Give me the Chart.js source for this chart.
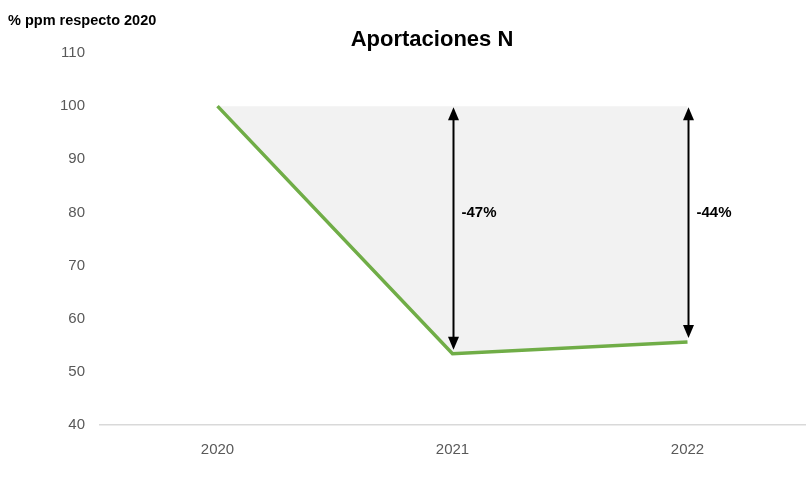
<!DOCTYPE html>
<html>
<head>
<meta charset="utf-8">
<script src="https://cdn.jsdelivr.net/npm/chart.js@4.4.0/dist/chart.umd.min.js"></script>
<style>
  html, body { margin: 0; padding: 0; background: #fff; }
  #wrap { width: 812px; height: 487px; }
</style>
</head>
<body>
<div id="wrap"><canvas id="chart"></canvas></div>
<script>
// ================================
//            DATOS
// ================================
const years = ["2020", "2021", "2022"];
const aportacionesN = [100, 53.4, 55.6];
const arrowYears = ["2021", "2022"];
const arrowLabels = ["-47%", "-44%"];
const yTicks = [40, 50, 60, 70, 80, 90, 100, 110];

const FONT = "'Liberation Sans', Arial, sans-serif";

// ================================
//   FLECHAS + TEXTOS
// ================================
const annotations = {
  id: "annotations",
  afterDatasetsDraw(chart) {
    const { ctx, scales } = chart;
    const x = scales.x, y = scales.y;
    ctx.save();
    arrowYears.forEach((yr, i) => {
      const idx = years.indexOf(yr);
      const px = Math.round(x.getPixelForValue(idx)) + 0.5;
      const top = y.getPixelForValue(100) + 1;
      const bottom = y.getPixelForValue(aportacionesN[idx]) - 4;
      const head = 13, half = 5.5;
      ctx.strokeStyle = "#000";
      ctx.fillStyle = "#000";
      ctx.lineWidth = 2;
      ctx.beginPath();
      ctx.moveTo(px, top + head - 1);
      ctx.lineTo(px, bottom - head + 1);
      ctx.stroke();
      // punta arriba
      ctx.beginPath();
      ctx.moveTo(px, top);
      ctx.lineTo(px - half, top + head);
      ctx.lineTo(px + half, top + head);
      ctx.closePath();
      ctx.fill();
      // punta abajo
      ctx.beginPath();
      ctx.moveTo(px, bottom);
      ctx.lineTo(px - half, bottom - head);
      ctx.lineTo(px + half, bottom - head);
      ctx.closePath();
      ctx.fill();
      // texto
      ctx.font = "bold 15px " + FONT;
      ctx.textAlign = "left";
      ctx.textBaseline = "middle";
      ctx.fillText(arrowLabels[i], px + 8, y.getPixelForValue(80));
    });
    ctx.restore();
  },
  afterDraw(chart) {
    const { ctx } = chart;
    ctx.save();
    ctx.fillStyle = "#000";
    ctx.textBaseline = "alphabetic";
    ctx.font = "bold 14.5px " + FONT;
    ctx.textAlign = "left";
    ctx.fillText("% ppm respecto 2020", 8, 25);
    ctx.font = "bold 22px " + FONT;
    ctx.textAlign = "center";
    ctx.fillText("Aportaciones N", 432, 46);
    ctx.restore();
  }
};

// ================================
//          CHART.JS INIT
// ================================
new Chart(document.getElementById("chart"), {
  type: "line",
  data: {
    labels: years,
    datasets: [
      {
        label: "Aportaciones N",
        data: aportacionesN,
        borderColor: "#70ad47",
        borderWidth: 3.5,
        pointRadius: 0,
        tension: 0,
        fill: { value: 100 },
        backgroundColor: "#f2f2f2",
      },
    ],
  },
  options: {
    responsive: true,
    maintainAspectRatio: false,
    animation: false,
    layout: { padding: { top: 53, right: 7, left: 0, bottom: 0 } },
    plugins: {
      legend: { display: false },
      tooltip: { enabled: false },
      title: { display: false },
    },
    scales: {
      x: {
        offset: true,
        grid: { display: false, offset: true },
        border: { display: true, color: "#d9d9d9", width: 1.5 },
        ticks: {
          color: "#595959",
          font: { family: FONT, size: 15 },
          padding: 8,
        },
        afterFit(scale) { scale.height = 62; },
      },
      y: {
        min: 40,
        max: 110,
        afterBuildTicks(scale) {
          scale.ticks = yTicks.map((v) => ({ value: v }));
        },
        grid: { display: false },
        border: { display: false },
        ticks: {
          color: "#595959",
          font: { family: FONT, size: 15 },
          padding: 7,
        },
        afterFit(scale) { scale.width = 100; },
      },
    },
  },
  plugins: [annotations],
});
</script>
</body>
</html>
